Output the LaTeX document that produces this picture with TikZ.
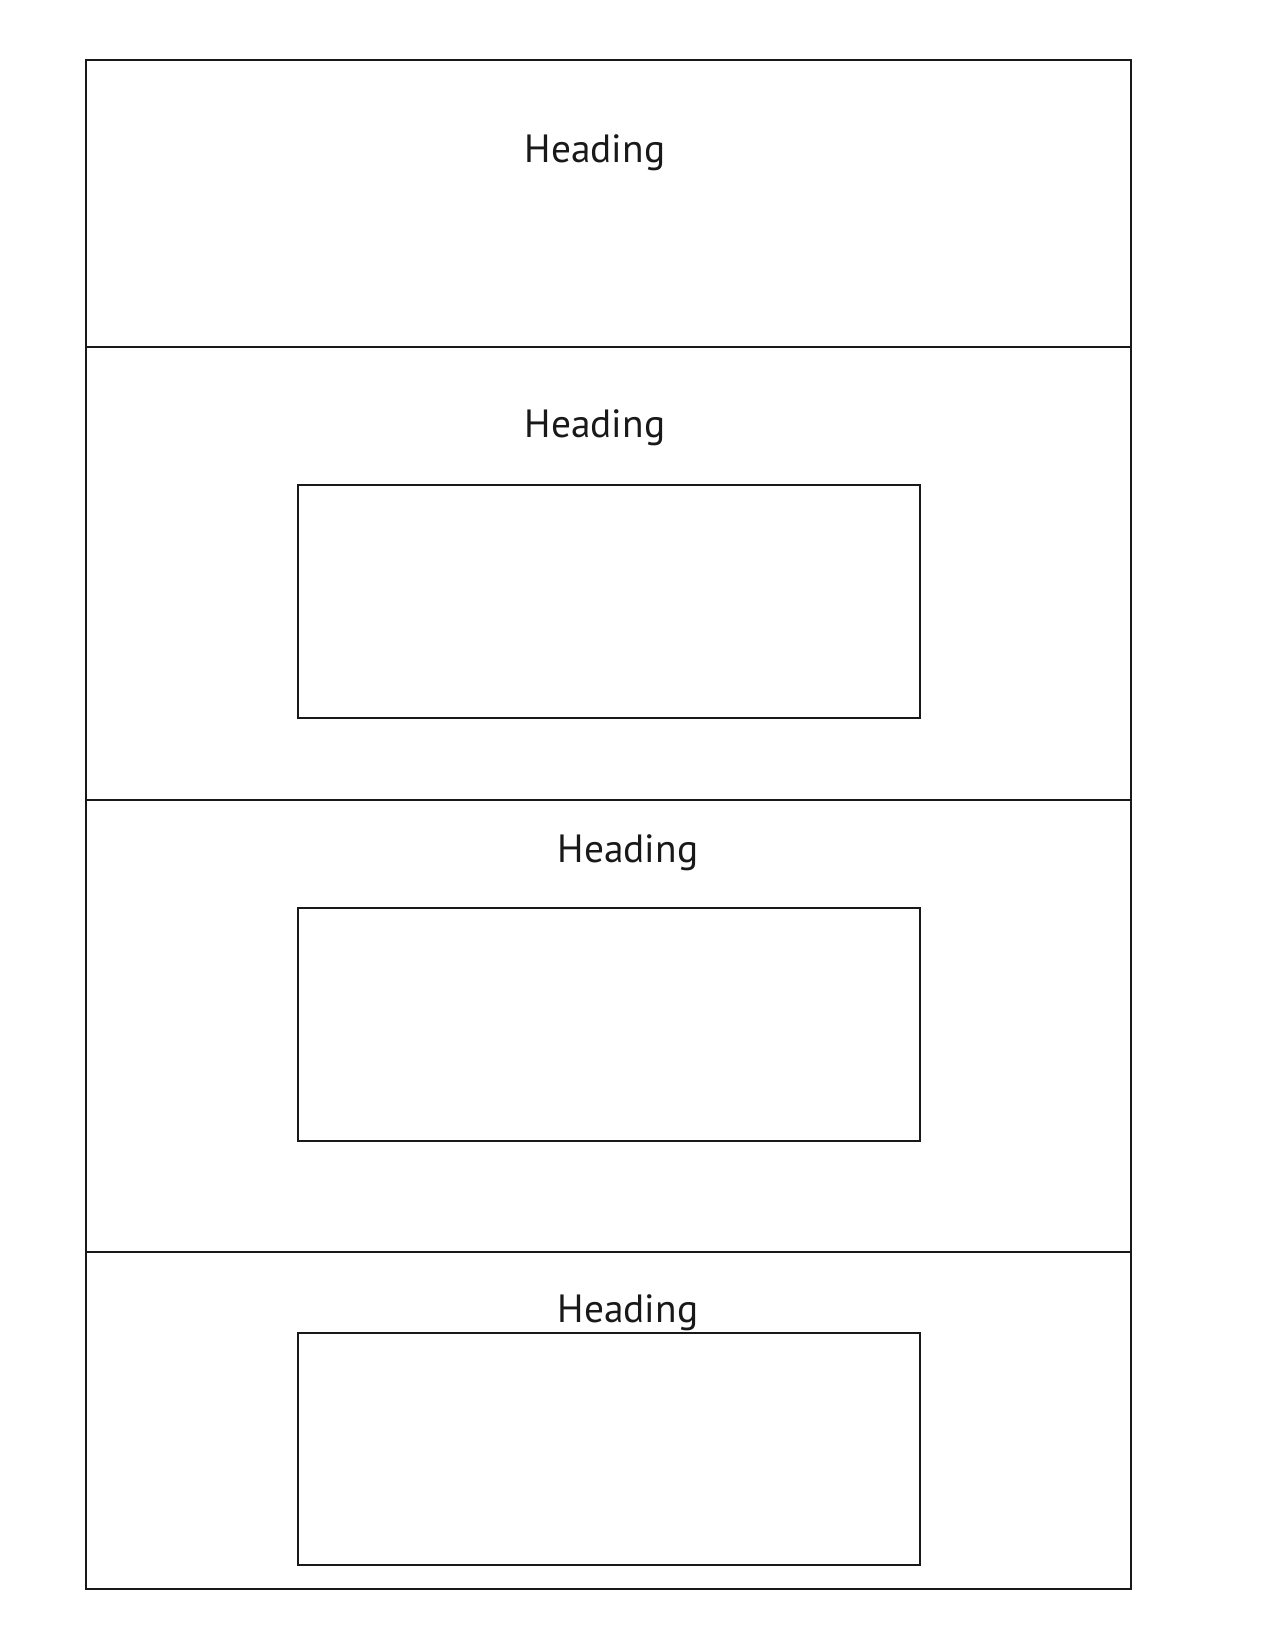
\documentclass[tikz,border=0pt]{standalone}
\usepackage{fontspec}
\setmainfont{PT Sans}
\begin{document}
\begin{tikzpicture}[x=0.48pt,y=-0.48pt,
  frame/.style={draw=black!90,line width=1pt},
  heading/.style={anchor=base,inner sep=0pt,font=\fontsize{18.9}{20}\selectfont,text=black!90}]
\useasboundingbox (0,0) rectangle (1275,1650);
% outer sections
\draw[frame] (86,60) rectangle (1131,1589);
\draw[frame] (86,347) -- (1131,347);
\draw[frame] (86,800) -- (1131,800);
\draw[frame] (86,1252) -- (1131,1252);
% inner boxes
\draw[frame] (298,485) rectangle (920,718);
\draw[frame] (298,908) rectangle (920,1141);
\draw[frame] (298,1333) rectangle (920,1565);
% headings
\node[heading] (h1) at (595,163) {Heading};
\node[heading] (h2) at (595,438) {Heading};
\node[heading] (h3) at (628,862) {Heading};
\node[heading] (h4) at (628,1322) {Heading};
\end{tikzpicture}
\end{document}
